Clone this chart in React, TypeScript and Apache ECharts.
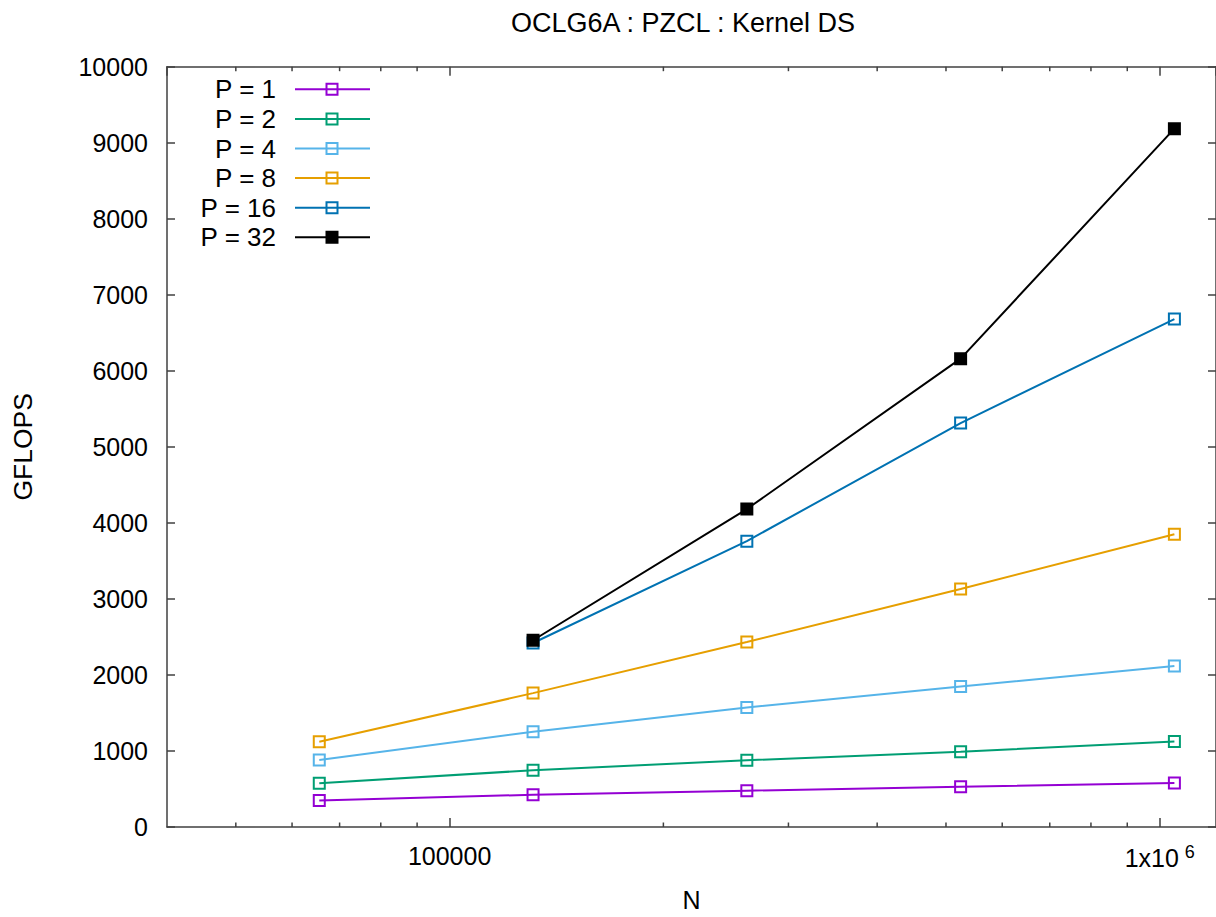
import React, { useEffect, useRef } from "react";
import * as echarts from "echarts";

const nValues = [65536, 131072, 262144, 524288, 1048576];
const seriesNames = ["P = 1", "P = 2", "P = 4", "P = 8", "P = 16", "P = 32"];
const seriesColors = ["#9400d3", "#009e73", "#56b4e9", "#e69f00", "#0072b2", "#000000"];
const p1 = [347, 425, 478, 530, 578];
const p2 = [574, 747, 878, 991, 1125];
const p4 = [882, 1252, 1573, 1847, 2117];
const p8 = [1122, 1761, 2434, 3130, 3851];
const p16 = [null, 2420, 3760, 5313, 6680];
const p32 = [null, 2456, 4182, 6160, 9185];
const seriesValues = [p1, p2, p4, p8, p16, p32];

const xMajorTicks = [100000, 1000000];
const xTickLabels = ["100000", "1x10{sup|6}"];
const xMinorTicks = [50000, 60000, 70000, 80000, 90000, 200000, 300000, 400000, 500000, 600000, 700000, 800000, 900000];

const FONT = "'Liberation Sans', Arial, Helvetica, sans-serif";
const AXIS_COLOR = "#404040";

export default function App() {
  const ref = useRef<HTMLDivElement>(null);
  useEffect(() => {
    if (!ref.current) return;
    const chart = echarts.init(ref.current, undefined, { renderer: "svg" });

    const legendGraphics: any[] = [];
    seriesNames.forEach((name, i) => {
      const y = 89.3 + i * 29.6;
      legendGraphics.push({
        type: "text",
        style: {
          text: name,
          x: 276,
          y,
          align: "right",
          verticalAlign: "middle",
          textAlign: "right",
          textVerticalAlign: "middle",
          font: `26px ${FONT}`,
          fill: "#000",
        },
      });
      legendGraphics.push({
        type: "line",
        shape: { x1: 295, y1: y, x2: 370, y2: y },
        style: { stroke: seriesColors[i], lineWidth: 2 },
      });
      legendGraphics.push({
        type: "rect",
        shape: { x: 332 - 5.5, y: y - 5.5, width: 11, height: 11 },
        style: {
          stroke: seriesColors[i],
          lineWidth: 2,
          fill: i === 5 ? "#000" : "none",
        },
      });
    });

    const lineSeries = seriesValues.map((vals, i) => ({
      name: seriesNames[i],
      type: "line",
      xAxisIndex: 0,
      yAxisIndex: 0,
      data: vals
        .map((v, j) => (v === null ? null : [nValues[j], v]))
        .filter((d) => d !== null),
      symbol: "rect",
      symbolSize: 11,
      lineStyle: { width: 2, color: seriesColors[i] },
      itemStyle: {
        color: i === 5 ? "#000" : "rgba(0,0,0,0)",
        borderColor: seriesColors[i],
        borderWidth: 2,
      },
      emphasis: { disabled: true },
      z: 3 + i,
    }));

    const minorTickSeries = {
      type: "custom",
      xAxisIndex: 0,
      yAxisIndex: 0,
      silent: true,
      clip: false,
      data: xMinorTicks.map((v) => [v, 0]),
      renderItem: (params: any, api: any) => {
        const x = api.value(0);
        const b = api.coord([x, 0]);
        const t = api.coord([x, 10000]);
        return {
          type: "group",
          children: [
            {
              type: "line",
              shape: { x1: b[0], y1: b[1], x2: b[0], y2: b[1] - 4.5 },
              style: { stroke: AXIS_COLOR, lineWidth: 1.5 },
            },
            {
              type: "line",
              shape: { x1: t[0], y1: t[1], x2: t[0], y2: t[1] + 4.5 },
              style: { stroke: AXIS_COLOR, lineWidth: 1.5 },
            },
          ],
        };
      },
      z: 2,
    };

    const xLabelFormatter = (v: number) => {
      for (let k = 0; k < xMajorTicks.length; k++) {
        if (Math.abs(v - xMajorTicks[k]) / xMajorTicks[k] < 1e-6) return xTickLabels[k];
      }
      return "";
    };

    chart.setOption({
      animation: false,
      backgroundColor: "#ffffff",
      title: {
        text: "OCLG6A : PZCL : Kernel DS",
        left: 678,
        top: 4,
        textAlign: "center",
        textStyle: { fontFamily: FONT, fontSize: 27, fontWeight: "normal", color: "#000" },
      },
      grid: { left: 167, top: 66.7, width: 1054, height: 766.6, containLabel: false },
      xAxis: [
        {
          type: "log",
          logBase: 10,
          min: 40000,
          max: 1200000,
          position: "bottom",
          name: "N",
          nameLocation: "middle",
          nameGap: 60,
          nameTextStyle: { fontFamily: FONT, fontSize: 25, color: "#000" },
          axisLine: { show: true, onZero: false, lineStyle: { color: AXIS_COLOR, width: 1.5 } },
          axisTick: { show: true, inside: true, length: 9, lineStyle: { color: AXIS_COLOR, width: 1.5 } },
          minorTick: { show: false },
          splitLine: { show: false },
          axisLabel: {
            show: true,
            margin: 16,
            showMinLabel: false,
            showMaxLabel: false,
            fontFamily: FONT,
            fontSize: 25,
            color: "#000",
            formatter: xLabelFormatter,
            rich: {
              sup: { fontFamily: FONT, fontSize: 18, color: "#000", verticalAlign: "top", padding: [0, 0, 12, 6] },
            },
          },
        },
        {
          type: "log",
          logBase: 10,
          min: 40000,
          max: 1200000,
          position: "top",
          axisLine: { show: true, onZero: false, lineStyle: { color: AXIS_COLOR, width: 1.5 } },
          axisTick: { show: true, inside: true, length: 9, lineStyle: { color: AXIS_COLOR, width: 1.5 } },
          axisLabel: { show: false },
          splitLine: { show: false },
        },
      ],
      yAxis: [
        {
          type: "value",
          min: 0,
          max: 10000,
          interval: 1000,
          position: "left",
          name: "GFLOPS",
          nameLocation: "middle",
          nameRotate: 90,
          nameGap: 131,
          nameTextStyle: { fontFamily: FONT, fontSize: 26.5, color: "#000" },
          axisLine: { show: true, lineStyle: { color: AXIS_COLOR, width: 1.5 } },
          axisTick: { show: true, inside: true, length: 8, lineStyle: { color: AXIS_COLOR, width: 1.5 } },
          splitLine: { show: false },
          axisLabel: {
            margin: 19,
            fontFamily: FONT,
            fontSize: 25,
            color: "#000",
            formatter: (v: number) => String(v),
          },
        },
        {
          type: "value",
          min: 0,
          max: 10000,
          interval: 1000,
          position: "right",
          axisLine: { show: true, lineStyle: { color: AXIS_COLOR, width: 1.5 } },
          axisTick: { show: true, inside: true, length: 8, lineStyle: { color: AXIS_COLOR, width: 1.5 } },
          splitLine: { show: false },
          axisLabel: { show: false },
        },
      ],
      graphic: legendGraphics,
      series: [minorTickSeries, ...lineSeries],
    });

    return () => chart.dispose();
  }, []);

  return (
    <div
      ref={ref}
      style={{ position: "absolute", left: 0, top: 0, width: 1216, height: 917, background: "#fff" }}
    />
  );
}
